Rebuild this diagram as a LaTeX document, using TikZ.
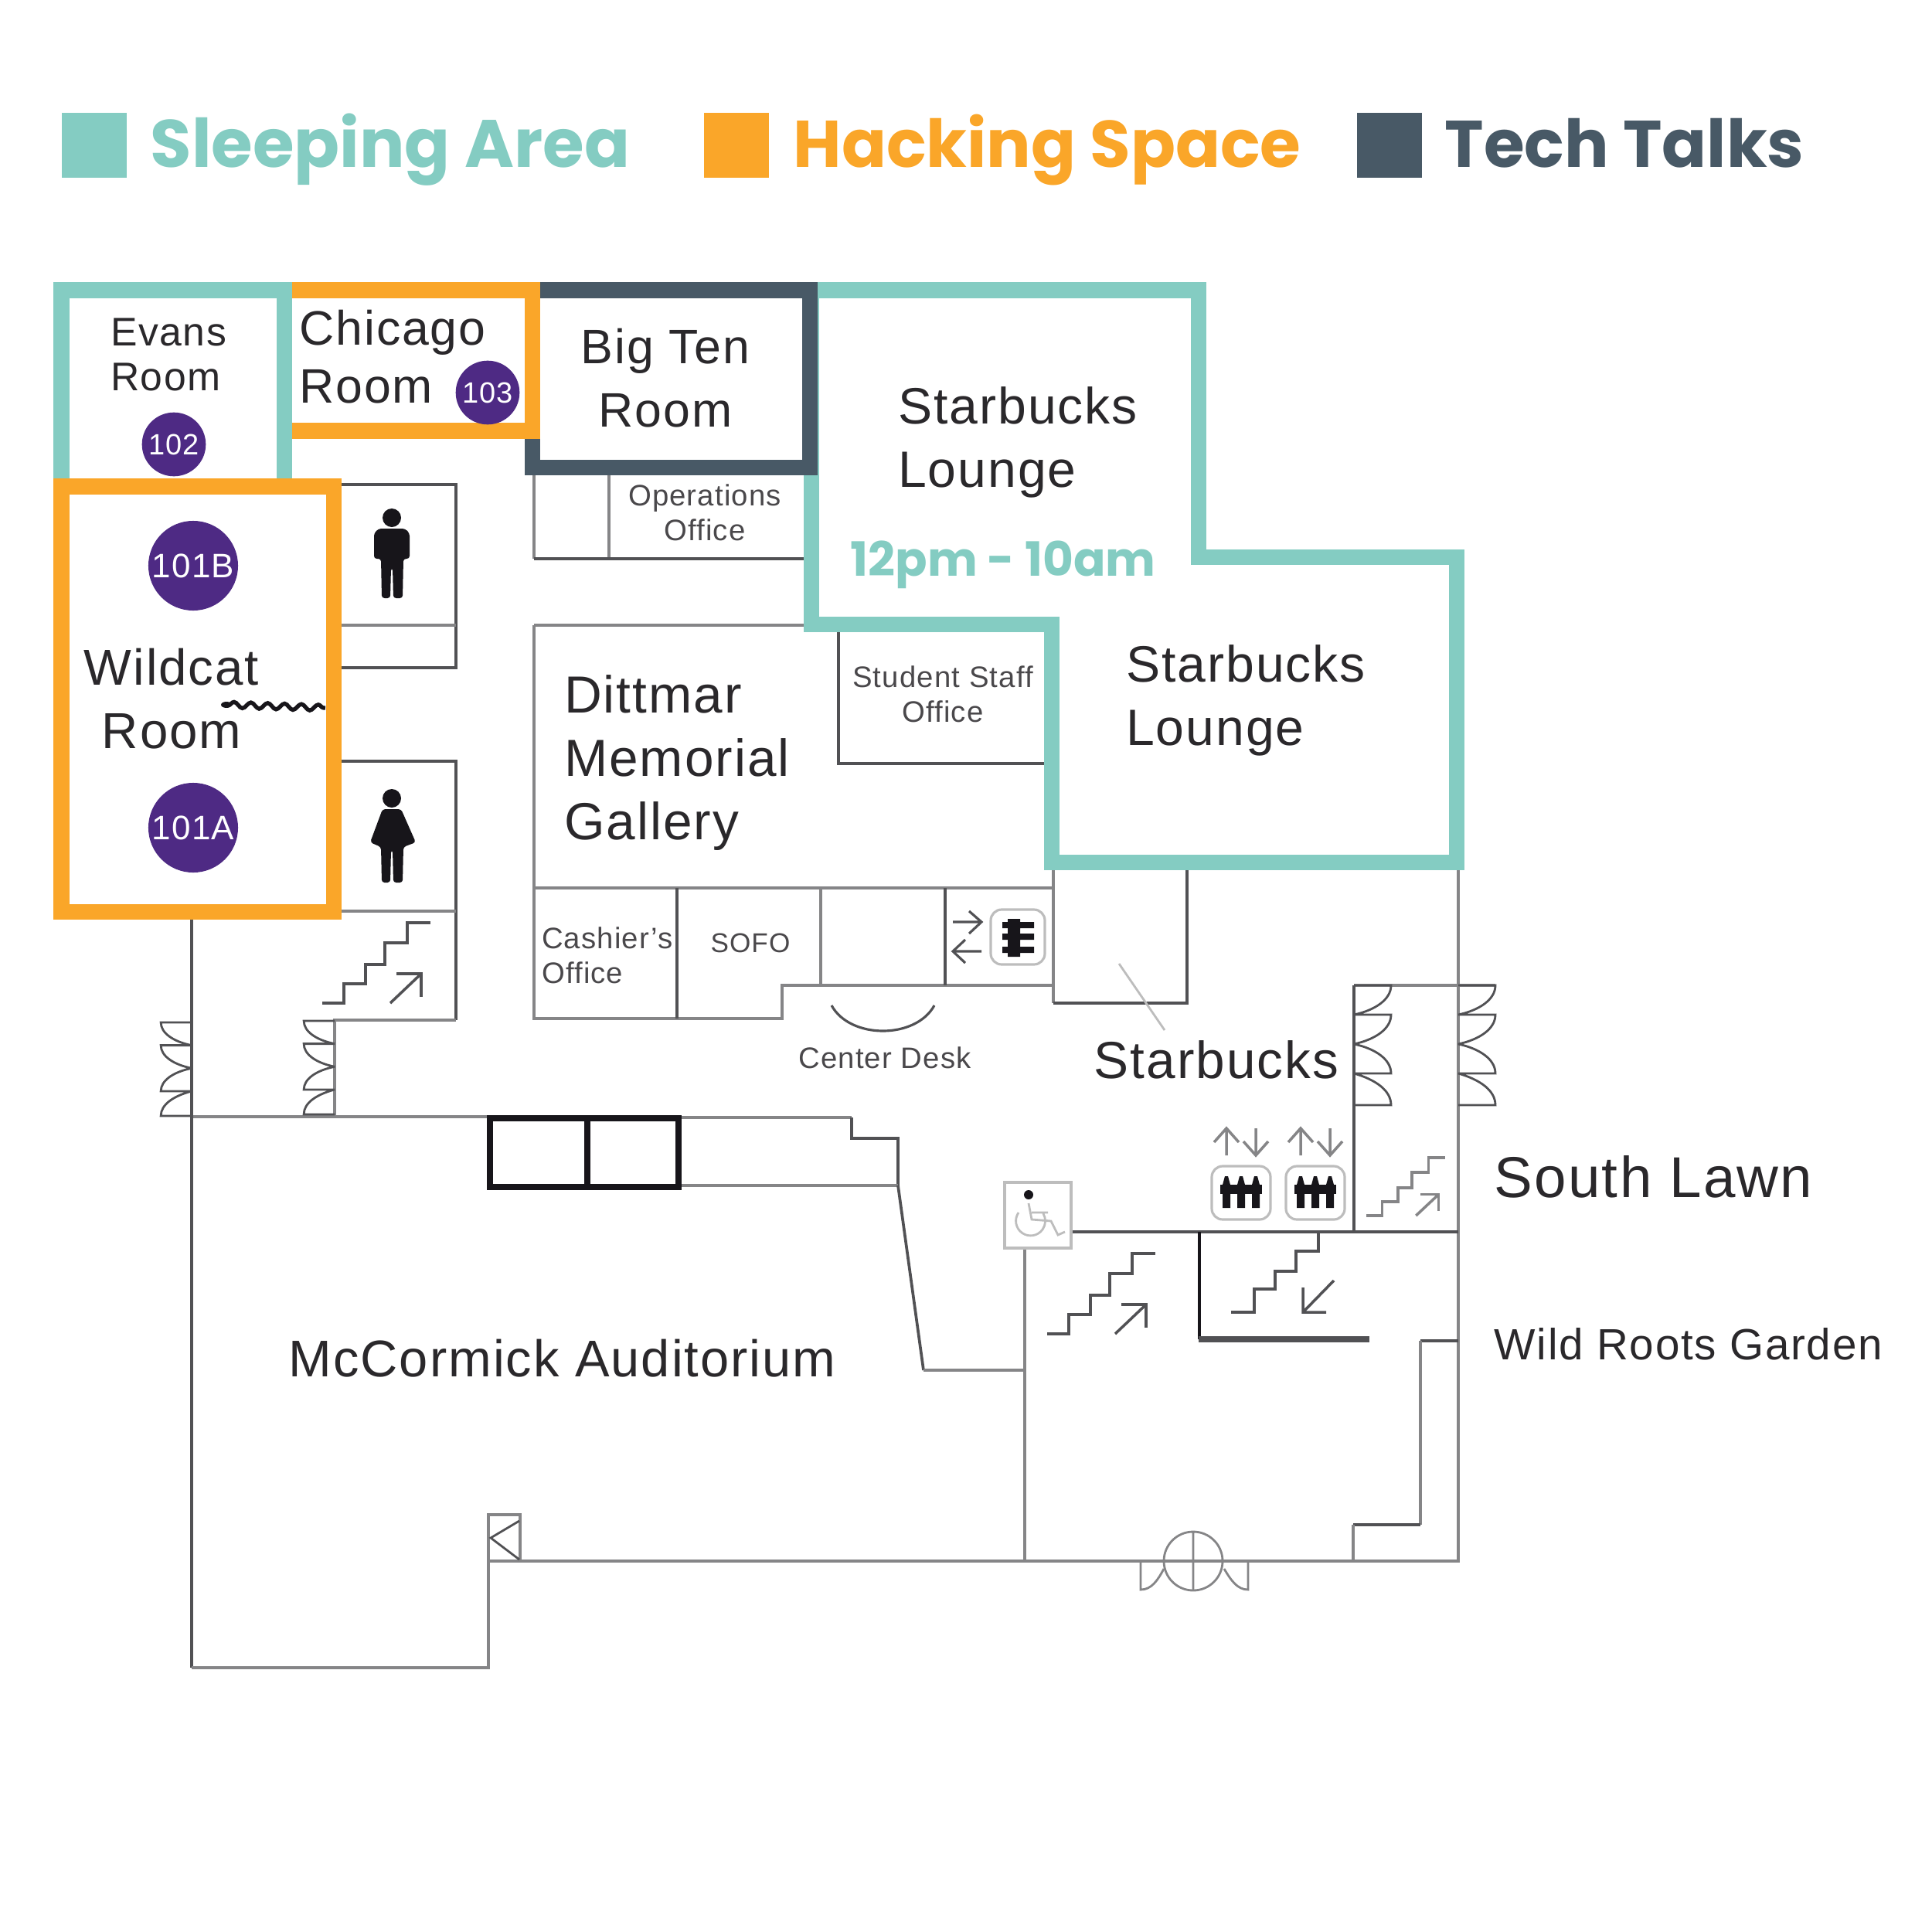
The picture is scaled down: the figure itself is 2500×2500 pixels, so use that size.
\documentclass[tikz,border=0pt]{standalone}
\usepackage{fontspec}
\setmainfont{Liberation Sans}[LetterSpace=3]
\newfontfamily\legendfont{Poppins}
\usetikzlibrary{decorations.pathmorphing}
\definecolor{sleepteal}{HTML}{84CCC2}
\definecolor{hackorange}{HTML}{FAA629}
\definecolor{talkslate}{HTML}{485966}
\definecolor{roompurple}{HTML}{4E2A84}
\definecolor{wallgray}{HTML}{858587}
\definecolor{walldark}{HTML}{515154}
\definecolor{wallink}{HTML}{17151A}
\definecolor{signgray}{HTML}{BDBDBD}
\definecolor{labelink}{HTML}{2A282B}
\tikzset{
	wall/.style={draw=wallgray,line width=1.25pt},
	wall dark/.style={draw=walldark,line width=1.05pt},
	wall heavy/.style={draw=wallink,line width=2.3pt},
	area/.style={line width=5.8pt,miter limit=10},
	legend swatch/.style={minimum size=24pt,inner sep=0pt,outer sep=0pt},
	legend label/.style={anchor=base west,inner sep=0pt,font=\legendfont\bfseries\fontsize{24.3}{29}\selectfont},
	big label/.style={inner sep=0pt,text=labelink,align=left,font=\fontsize{17.8}{23.3}\selectfont},
	mid label/.style={inner sep=0pt,text=labelink,align=left,font=\fontsize{15}{16.4}\selectfont},
	small label/.style={inner sep=0pt,text=labelink!85!white,align=center,font=\fontsize{10.9}{12.8}\selectfont},
	room badge/.style={circle,fill=roompurple,text=white,inner sep=0pt,minimum size=#1},
	stairs/.pic={
		\draw[line width=1pt] (0,0) -- (28,0) -- (28,-25) -- (56,-25) -- (56,-50) -- (81,-50) -- (81,-78) -- (110,-78) -- (110,-104) -- (140,-104);
		\draw[line width=1pt] (88,0) -- (128,-38);
		\draw[line width=1pt] (96,-38) -- (128,-38) -- (128,-8);
	},
	doorbank/.pic={
		\draw[line width=.8pt,miter limit=2] (0,0) -- (48,0) .. controls (48,18) and (28,32) .. (0,38) -- (48,38) .. controls (48,56) and (28,70) .. (0,76) .. controls (28,82) and (48,96) .. (48,114) -- (0,114) .. controls (28,122) and (48,136) .. (48,155) -- (0,155);
	},
	liftcar/.pic={
		\draw[draw=signgray,line width=.9pt,rounded corners=4pt] (0,0) rectangle (76,69);
		\fill[wallink] (11,24) rectangle (65,36);
		\foreach \p in {19,38,57}{
			\fill[wallink] ({\p-5},24) -- ({\p-2},13) -- ({\p+2},13) -- ({\p+5},24) -- ({\p+5},54) -- ({\p-5},54) -- cycle;
		}
		\draw[draw=wallgray,line width=1pt] (19,-14) -- (19,-49) (3,-31) -- (19,-49) -- (35,-31);
		\draw[draw=wallgray,line width=1pt] (57,-49) -- (57,-14) (41,-32) -- (57,-14) -- (73,-32);
	}
}
\begin{document}
\begin{tikzpicture}[x=0.01cm,y=-0.01cm]
	\useasboundingbox (0,0) rectangle (2500,2500);

	% outer walls and corridors
	\draw[wall] (248,1445) -- (635,1445);
	\draw[wall dark] (248,1190) -- (248,2158);
	\draw[wall] (248,2158) -- (632,2158) -- (632,2020) -- (1887,2020) -- (1887,1120);
	\draw[wall] (878,1446) -- (1102,1446);
	\draw[wall dark] (1102,1446) -- (1102,1473) -- (1162,1473) -- (1162,1534);
	\draw[wall] (878,1534) -- (1162,1534);
	\draw[wall dark] (1162,1534) -- (1195,1773);
	\draw[wall] (1195,1773) -- (1326,1773);
	\draw[wall] (1326,1615) -- (1326,2020);
	\draw[wall dark] (1386,1594) -- (1887,1594);
	\draw[wall] (1752,1275) -- (1935,1275);
	\draw[wall dark] (1752,1275) -- (1752,1594);
	\draw[wall dark] (1887,1735) -- (1838,1735);
	\draw[wall] (1838,1735) -- (1838,1973);
	\draw[wall dark] (1838,1973) -- (1751,1973);
	\draw[wall] (1751,1973) -- (1751,2020);
	\draw[wall heavy] (634,1447) rectangle (878,1536) (760,1447) -- (760,1536);
	\draw[draw=wallink,line width=1.4pt] (1552,1594) -- (1552,1733);
	\draw[draw=walldark,line width=2.2pt] (1551,1733) -- (1772,1733);

	% restrooms and west stair
	\draw[wall dark] (442,627) -- (590,627) -- (590,864) -- (442,864);
	\draw[wall] (442,809) -- (590,809);
	\draw[wall dark] (442,985) -- (590,985) -- (590,1320);
	\draw[wall] (442,1179) -- (590,1179);
	\draw[wall] (590,1320) -- (433,1320) -- (433,1445);

	% offices
	\draw[wall] (691,615) -- (691,723) (788,615) -- (788,723);
	\draw[wall dark] (691,723) -- (1055,723);
	\draw[wall] (691,809) -- (1055,809);
	\draw[wall] (691,809) -- (691,1318) -- (1012,1318) -- (1012,1275) -- (1363,1275);
	\draw[wall] (691,1149) -- (1363,1149);
	\draw[wall dark] (876,1149) -- (876,1318) (1223,1149) -- (1223,1275);
	\draw[wall] (1062,1149) -- (1062,1275);
	\draw[wall dark] (1085,808) -- (1085,988) -- (1351,988);
	\draw[wall] (1363,1124) -- (1363,1298);
	\draw[wall dark] (1363,1298) -- (1536,1298) -- (1536,1124);
	\draw[draw=signgray,line width=.8pt] (1448,1247) -- (1507,1333);
	\draw[wall dark,line width=.9pt] (1076,1301) .. controls (1100,1345) and (1185,1345) .. (1209,1301);

	% doors
	\begin{scope}[color=walldark]
		\pic[xscale=-.83,yscale=.78] at (248,1323) {doorbank};
		\pic[xscale=-.83,yscale=.78] at (433,1321) {doorbank};
		\pic at (1752,1275) {doorbank};
		\pic at (1887,1275) {doorbank};
	\end{scope}
	\draw[draw=wallgray,line width=.9pt] (632,2020) -- (632,1960) -- (673,1960) -- (673,2020);
	\draw[wall dark,line width=.8pt] (672,1968) -- (635,1990) -- (672,2018);
	\draw[draw=wallgray,line width=.8pt] (1544,2020) circle (38) (1544,1982) -- (1544,2058);
	\draw[draw=wallgray,line width=.8pt] (1476,2020) -- (1476,2057) .. controls (1490,2057) and (1498,2045) .. (1506,2030);
	\draw[draw=wallgray,line width=.8pt] (1615,2020) -- (1615,2057) .. controls (1601,2057) and (1593,2045) .. (1584,2030);

	% stairs
	\pic[color=walldark] at (417,1298) {stairs};
	\pic[color=walldark] at (1355,1726) {stairs};
	\pic[color=wallgray,xscale=.73,yscale=.72] at (1768,1573) {stairs};
	\draw[draw=walldark,line width=1pt] (1593,1698) -- (1623,1698) -- (1623,1668) -- (1650,1668) -- (1650,1645) -- (1677,1645) -- (1677,1619) -- (1706,1619) -- (1706,1594);
	\draw[draw=walldark,line width=1pt] (1726,1657) -- (1686,1698) (1686,1666) -- (1686,1698) -- (1716,1698);

	% signs
	\fill[wallink] (507,670) circle (12);
	\fill[wallink,rounded corners=1pt] (490,684) -- (524,684) -- (530,690) -- (530,723) -- (522,723) -- (521,774) -- (509,774) -- (508,735) -- (506,735) -- (505,774) -- (494,774) -- (493,723) -- (484,723) -- (484,690) -- cycle;
	\fill[wallink] (507,1033) circle (12);
	\fill[wallink,rounded corners=1pt] (495,1047) -- (519,1047) -- (538,1090) -- (522,1096) -- (521,1142) -- (509,1142) -- (508,1100) -- (506,1100) -- (505,1142) -- (494,1142) -- (493,1096) -- (479,1090) -- cycle;
	\pic at (1568,1509) {liftcar};
	\pic at (1664,1509) {liftcar};
	\draw[draw=signgray,line width=.9pt,rounded corners=4pt] (1282,1177) rectangle (1352,1248);
	\fill[wallink] (1297,1193) rectangle (1338,1201) (1297,1208) rectangle (1338,1216) (1297,1225) rectangle (1338,1233) (1304,1189) rectangle (1320,1238);
	\draw[draw=walldark,line width=.9pt] (1233,1193) -- (1270,1193) (1254,1179) -- (1270,1193) -- (1254,1208);
	\draw[draw=walldark,line width=.9pt] (1270,1231) -- (1233,1231) (1249,1216) -- (1233,1231) -- (1249,1246);
	\draw[draw=signgray,line width=1pt] (1300,1530) rectangle (1386,1615);
	\fill[wallink] (1331,1546) circle (6);
	\draw[draw=signgray,line width=.8pt] (1331,1557) -- (1335,1578) -- (1360,1580) -- (1369,1598) -- (1378,1594) (1335,1569) -- (1356,1569) (1318,1569) arc[start angle=215,end angle=-30,radius=19];

	% squiggle
	\fill[wallink] (293,912) ellipse (7 and 4);
	\draw[draw=wallink,line width=1.5pt,decorate,decoration={snake,segment length=6.2pt,amplitude=1.1pt}] (296,912) -- (421,916);

	% areas
	\draw[area,draw=sleepteal] (79.5,375.5) rectangle (368,629);
	\draw[area,draw=sleepteal] (1050,375.5) -- (1551,375.5) -- (1551,721) -- (1885,721) -- (1885,1116) -- (1361,1116) -- (1361,808) -- (1050,808) -- cycle;
	\draw[area,draw=talkslate] (689,375.5) rectangle (1048,605);
	\draw[area,draw=hackorange] (378,375.5) -- (689,375.5) -- (689,557.5) -- (378,557.5);
	\draw[area,draw=hackorange] (79.5,629.5) rectangle (432,1180);

	% legend
	\node[legend swatch,fill=sleepteal] (sleep swatch) at (122,188) {};
	\node[legend swatch,fill=hackorange] (hack swatch) at (953,188) {};
	\node[legend swatch,fill=talkslate] (talk swatch) at (1798,188) {};
	\node[legend label,text=sleepteal,font=\legendfont\bfseries\fontsize{24.7}{29}\selectfont] (sleep text) at (194,216) {Sleeping Area};
	\node[legend label,text=hackorange] (hack text) at (1026,216) {Hacking Space};
	\node[legend label,text=talkslate] (talk text) at (1869,216) {Tech Talks};

	% room labels
	\node[mid label,font=\fontsize{14.7}{16.4}\selectfont] (evans) at (218,459) {Evans\\Room};
	\node[big label,font=\fontsize{17.8}{21.3}\selectfont] (chicago) at (508,462) {Chicago\\Room};
	\node[big label,align=center] (bigten) at (861,489) {Big Ten\\Room};
	\node[big label,font=\fontsize{18.8}{23.3}\selectfont] (lounge north) at (1317,572) {Starbucks\\Lounge};
	\node[big label,font=\fontsize{18.8}{23.3}\selectfont] (lounge south) at (1612,906) {Starbucks\\Lounge};
	\node[big label,align=center,font=\fontsize{18.6}{23.3}\selectfont] (wildcat) at (222,904) {Wildcat\\Room};
	\node[big label,font=\fontsize{19.2}{23.3}\selectfont] (dittmar) at (876,987) {Dittmar\\Memorial\\Gallery};
	\node[small label] (operations) at (912,663) {Operations\\Office};
	\node[small label] (staff) at (1220,898) {Student Staff\\Office};
	\node[small label,align=left] (cashier) at (786,1236) {Cashier's\\Office};
	\node[small label,font=\fontsize{10}{12.8}\selectfont] (sofo) at (971,1220) {SOFO};
	\node[small label] (desk) at (1145,1369) {Center Desk};
	\node[big label,anchor=base west,font=\fontsize{19.2}{23.3}\selectfont] (starbucks) at (1415,1395) {Starbucks};
	\node[big label,anchor=base west,font=\fontsize{21.2}{25}\selectfont] (lawn) at (1933,1549) {South Lawn};
	\node[mid label,anchor=base west,font=\fontsize{16.1}{19}\selectfont] (garden) at (1933,1759) {Wild Roots Garden};
	\node[big label,anchor=base west,font=\fontsize{19}{23.3}\selectfont] (mccormick) at (373,1781) {McCormick Auditorium};
	\node[anchor=base west,inner sep=0pt,text=sleepteal,font=\legendfont\bfseries\fontsize{17.4}{21}\selectfont] (hours) at (1100,745) {12pm - 10am};

	% room numbers
	\node[room badge=23.5pt,font=\fontsize{10.8}{12}\selectfont] (n102) at (225,575) {102};
	\node[room badge=23.5pt,font=\fontsize{10.8}{12}\selectfont] (n103) at (631,508) {103};
	\node[room badge=33pt,font=\fontsize{12.5}{14}\selectfont] (n101b) at (250,732) {101B};
	\node[room badge=33pt,font=\fontsize{12.5}{14}\selectfont] (n101a) at (250,1071) {101A};
\end{tikzpicture}
\end{document}
